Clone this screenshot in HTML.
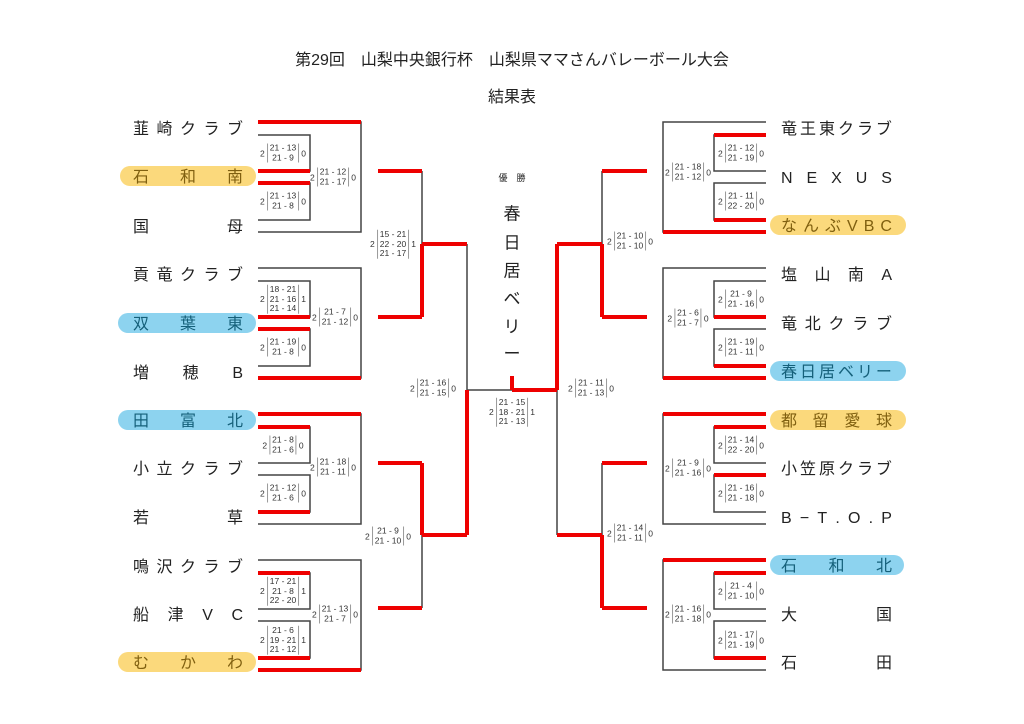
<!DOCTYPE html>
<html><head><meta charset="utf-8"><style>
body{margin:0;background:#fff;}
#w{position:relative;width:1024px;height:724px;overflow:hidden;font-family:"Liberation Sans","Noto Sans CJK JP",sans-serif;color:#222;}
svg{position:absolute;left:0;top:0;}
.t{position:absolute;left:0;width:1024px;text-align:center;font-size:16px;}
.n{position:absolute;height:20px;display:flex;justify-content:space-between;align-items:center;font-size:16px;transform:translateY(calc(-50% + 2px));}
.n span{line-height:20px;}
.p{position:absolute;height:20px;border-radius:10px;transform:translateY(-50%);}
.y{background:#fbd97c;}.b{background:#8dd3ef;}
.s{position:absolute;display:flex;align-items:center;font-size:8.5px;transform:translate(-50%,-50%);color:#333;white-space:nowrap;}
.s span{display:block;border-left:1px solid #999;border-right:1px solid #999;padding:0 2px;margin:0 2px;line-height:9.5px;text-align:center;}
.v{position:absolute;left:500px;width:24px;text-align:center;font-size:17px;transform:translateY(-50%);}
</style></head><body><div id="w">
<div class="t" style="top:46px">第29回　山梨中央銀行杯　山梨県ママさんバレーボール大会</div>
<div class="t" style="top:83px">結果表</div>

<div class="p y" style="left:120px;width:136px;top:176px"></div>
<div class="p b" style="left:118px;width:138px;top:323px"></div>
<div class="p b" style="left:118px;width:138px;top:420px"></div>
<div class="p y" style="left:118px;width:138px;top:662px"></div>
<div class="p y" style="left:770px;width:136px;top:225px"></div>
<div class="p b" style="left:770px;width:136px;top:371px"></div>
<div class="p y" style="left:770px;width:136px;top:420px"></div>
<div class="p b" style="left:770px;width:134px;top:565px"></div>

<svg width="1024" height="724">
<g stroke="#444" stroke-width="1.5" fill="none">
<path d="M258 122H361V232H258M258 268H361V378H258M258 414H361V524H258M258 560H361V670H258"/>
<path d="M258 135H310V171H258M258 183H310V220H258M258 281H310V317H258M258 329H310V366H258M258 427H310V463H258M258 475H310V512H258M258 573H310V609H258M258 621H310V658H258"/>
<path d="M766 122H663V232H766M766 268H663V378H766M766 414H663V524H766M766 560H663V670H766"/>
<path d="M766 135H714V171H766M766 183H714V220H766M766 281H714V317H766M766 329H714V366H766M766 427H714V463H766M766 475H714V512H766M766 573H714V609H766M766 621H714V658H766"/>
<path d="M422 171V244M422 535V608M467 244V390H512M602 171V244M602 463V535M557 390V535"/>
</g>
<g stroke="#e00" stroke-width="4" fill="none">
<path d="M258 122H361M258 171H310M258 183H310M258 317H310M258 329H310M258 378H361M258 414H361M258 427H310M258 512H310M258 573H310M258 658H310M258 670H361"/>
<path d="M766 135H714M766 220H714M766 232H663M766 317H714M766 366H714M766 378H663M766 414H663M766 427H714M766 475H714M766 560H663M766 573H714M766 658H714"/>
<path d="M378 171H422M378 317H422M378 463H422M378 608H422M422 244V317M422 463V535M422 244H467M422 535H467M467 390V535"/>
<path d="M647 171H602M647 317H602M647 463H602M647 608H602M602 244V317M602 535V608M557 244H602M557 535H602M557 244V390"/>
<path d="M512 390H557M512 376V390"/>
</g>
</svg>

<div class="n" style="left:133px;width:110px;top:128px"><span>韮</span><span>崎</span><span>ク</span><span>ラ</span><span>ブ</span></div>
<div class="n" style="left:133px;width:110px;top:176px;color:#806010"><span>石</span><span>和</span><span>南</span></div>
<div class="n" style="left:133px;width:110px;top:226px"><span>国</span><span>母</span></div>
<div class="n" style="left:133px;width:110px;top:274px"><span>貢</span><span>竜</span><span>ク</span><span>ラ</span><span>ブ</span></div>
<div class="n" style="left:133px;width:110px;top:323px;color:#15607a"><span>双</span><span>葉</span><span>東</span></div>
<div class="n" style="left:133px;width:110px;top:372px"><span>増</span><span>穂</span><span>B</span></div>
<div class="n" style="left:133px;width:110px;top:420px;color:#15607a"><span>田</span><span>富</span><span>北</span></div>
<div class="n" style="left:133px;width:110px;top:468px"><span>小</span><span>立</span><span>ク</span><span>ラ</span><span>ブ</span></div>
<div class="n" style="left:133px;width:110px;top:517px"><span>若</span><span>草</span></div>
<div class="n" style="left:133px;width:110px;top:566px"><span>鳴</span><span>沢</span><span>ク</span><span>ラ</span><span>ブ</span></div>
<div class="n" style="left:133px;width:110px;top:614px"><span>船</span><span>津</span><span>V</span><span>C</span></div>
<div class="n" style="left:133px;width:110px;top:662px;color:#806010"><span>む</span><span>か</span><span>わ</span></div>

<div class="n" style="left:781px;width:111px;top:128px"><span>竜</span><span>王</span><span>東</span><span>ク</span><span>ラ</span><span>ブ</span></div>
<div class="n" style="left:781px;width:111px;top:177px"><span>N</span><span>E</span><span>X</span><span>U</span><span>S</span></div>
<div class="n" style="left:781px;width:111px;top:225px;color:#806010"><span>な</span><span>ん</span><span>ぶ</span><span>V</span><span>B</span><span>C</span></div>
<div class="n" style="left:781px;width:111px;top:274px"><span>塩</span><span>山</span><span>南</span><span>A</span></div>
<div class="n" style="left:781px;width:111px;top:323px"><span>竜</span><span>北</span><span>ク</span><span>ラ</span><span>ブ</span></div>
<div class="n" style="left:781px;width:111px;top:371px;color:#15607a"><span>春</span><span>日</span><span>居</span><span>ベ</span><span>リ</span><span>ー</span></div>
<div class="n" style="left:781px;width:111px;top:420px;color:#806010"><span>都</span><span>留</span><span>愛</span><span>球</span></div>
<div class="n" style="left:781px;width:111px;top:468px"><span>小</span><span>笠</span><span>原</span><span>ク</span><span>ラ</span><span>ブ</span></div>
<div class="n" style="left:781px;width:111px;top:517px"><span>B</span><span>−</span><span>T</span><span>.</span><span>O</span><span>.</span><span>P</span></div>
<div class="n" style="left:781px;width:111px;top:565px;color:#15607a"><span>石</span><span>和</span><span>北</span></div>
<div class="n" style="left:781px;width:111px;top:614px"><span>大</span><span>国</span></div>
<div class="n" style="left:781px;width:111px;top:662px"><span>石</span><span>田</span></div>

<div class="t" style="top:171px;font-size:9px">優　勝</div>
<div class="v" style="top:212px">春</div>
<div class="v" style="top:241px">日</div>
<div class="v" style="top:269px">居</div>
<div class="v" style="top:297px">ベ</div>
<div class="v" style="top:325px">リ</div>
<div class="v" style="top:352px">ー</div>

<div class="s" style="left:283px;top:153px">2<span>21 - 13<br>21 - 9</span>0</div>
<div class="s" style="left:283px;top:201px">2<span>21 - 13<br>21 - 8</span>0</div>
<div class="s" style="left:333px;top:177px">2<span>21 - 12<br>21 - 17</span>0</div>
<div class="s" style="left:283px;top:299px">2<span>18 - 21<br>21 - 16<br>21 - 14</span>1</div>
<div class="s" style="left:283px;top:347px">2<span>21 - 19<br>21 - 8</span>0</div>
<div class="s" style="left:335px;top:317px">2<span>21 - 7<br>21 - 12</span>0</div>
<div class="s" style="left:393px;top:244px">2<span>15 - 21<br>22 - 20<br>21 - 17</span>1</div>
<div class="s" style="left:283px;top:445px">2<span>21 - 8<br>21 - 6</span>0</div>
<div class="s" style="left:283px;top:493px">2<span>21 - 12<br>21 - 6</span>0</div>
<div class="s" style="left:333px;top:467px">2<span>21 - 18<br>21 - 11</span>0</div>
<div class="s" style="left:283px;top:591px">2<span>17 - 21<br>21 - 8<br>22 - 20</span>1</div>
<div class="s" style="left:283px;top:640px">2<span>21 - 6<br>19 - 21<br>21 - 12</span>1</div>
<div class="s" style="left:335px;top:614px">2<span>21 - 13<br>21 - 7</span>0</div>
<div class="s" style="left:388px;top:536px">2<span>21 - 9<br>21 - 10</span>0</div>
<div class="s" style="left:433px;top:388px">2<span>21 - 16<br>21 - 15</span>0</div>
<div class="s" style="left:512px;top:412px">2<span>21 - 15<br>18 - 21<br>21 - 13</span>1</div>
<div class="s" style="left:591px;top:388px">2<span>21 - 11<br>21 - 13</span>0</div>
<div class="s" style="left:630px;top:241px">2<span>21 - 10<br>21 - 10</span>0</div>
<div class="s" style="left:741px;top:153px">2<span>21 - 12<br>21 - 19</span>0</div>
<div class="s" style="left:741px;top:201px">2<span>21 - 11<br>22 - 20</span>0</div>
<div class="s" style="left:688px;top:172px">2<span>21 - 18<br>21 - 12</span>0</div>
<div class="s" style="left:741px;top:299px">2<span>21 - 9<br>21 - 16</span>0</div>
<div class="s" style="left:741px;top:347px">2<span>21 - 19<br>21 - 11</span>0</div>
<div class="s" style="left:688px;top:318px">2<span>21 - 6<br>21 - 7</span>0</div>
<div class="s" style="left:630px;top:533px">2<span>21 - 14<br>21 - 11</span>0</div>
<div class="s" style="left:741px;top:445px">2<span>21 - 14<br>22 - 20</span>0</div>
<div class="s" style="left:741px;top:493px">2<span>21 - 16<br>21 - 18</span>0</div>
<div class="s" style="left:688px;top:468px">2<span>21 - 9<br>21 - 16</span>0</div>
<div class="s" style="left:741px;top:591px">2<span>21 - 4<br>21 - 10</span>0</div>
<div class="s" style="left:741px;top:640px">2<span>21 - 17<br>21 - 19</span>0</div>
<div class="s" style="left:688px;top:614px">2<span>21 - 16<br>21 - 18</span>0</div>
</div></body></html>
